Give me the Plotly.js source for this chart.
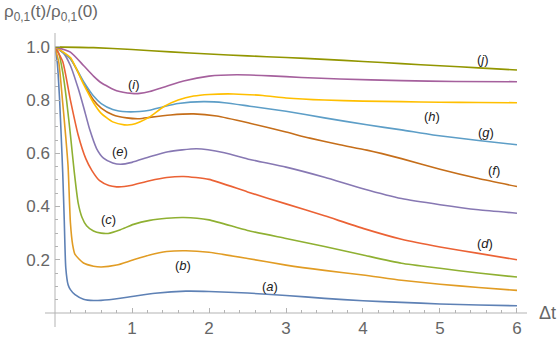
<!DOCTYPE html>
<html>
<head>
<meta charset="utf-8">
<script src="https://cdn.plot.ly/plotly-3.0.1.min.js"></script>
<style>html,body{margin:0;padding:0;background:#fff;}#chart{width:559px;height:341px;}</style>
</head>
<body>
<div id="chart"></div>
<script>
// ---- data ----
var xA = [0,0.03,0.06,0.08,0.1,0.12,0.14,0.17,0.2,0.26,0.37,0.5,0.7,1.0,1.3,1.7,2.0,2.5,3.0,3.5,4,4.5,5,5.5,6];
var yA = [1,0.94,0.8,0.67,0.53,0.35,0.17,0.106,0.088,0.069,0.052,0.047,0.05,0.062,0.074,0.082,0.081,0.075,0.066,0.055,0.046,0.04,0.034,0.03,0.027];

var xB = [0,0.05,0.1,0.14,0.17,0.2,0.23,0.26,0.37,0.5,0.6,0.8,1.0,1.23,1.45,1.7,2.0,2.5,3.0,3.5,4,4.5,5,5.5,6];
var yB = [1,0.94,0.79,0.66,0.55,0.34,0.255,0.22,0.188,0.176,0.173,0.18,0.198,0.218,0.231,0.234,0.228,0.205,0.18,0.16,0.143,0.123,0.108,0.096,0.085];

var xC = [0,0.05,0.1,0.15,0.2,0.25,0.3,0.35,0.41,0.5,0.6,0.69,0.85,1.02,1.23,1.45,1.67,2.0,2.5,3.0,3.5,4,4.5,5,5.5,6];
var yC = [1,0.975,0.905,0.8,0.67,0.53,0.415,0.36,0.328,0.308,0.3,0.299,0.313,0.333,0.348,0.356,0.359,0.35,0.31,0.28,0.25,0.218,0.187,0.168,0.15,0.135];

var xD = [0,0.1,0.2,0.3,0.4,0.48,0.58,0.7,0.8,0.9,1.0,1.23,1.45,1.67,2.0,2.5,3.0,3.5,4,4.5,5,5.5,6];
var yD = [1,0.945,0.8,0.67,0.58,0.535,0.497,0.479,0.474,0.475,0.48,0.497,0.509,0.513,0.502,0.455,0.41,0.365,0.318,0.277,0.248,0.224,0.2];

var xE = [0,0.1,0.2,0.3,0.37,0.45,0.54,0.63,0.75,0.85,1.0,1.23,1.47,1.84,2.2,2.53,3.0,3.5,4,4.5,5,5.5,6];
var yE = [1,0.98,0.93,0.845,0.775,0.69,0.618,0.582,0.564,0.559,0.566,0.587,0.606,0.617,0.602,0.577,0.548,0.51,0.467,0.43,0.407,0.388,0.375];

var xF = [0,0.2,0.37,0.5,0.6,0.75,0.93,1.1,1.23,1.5,1.8,2.1,2.53,3.0,3.31,3.7,4.05,4.5,5,5.5,6];
var yF = [1,0.955,0.865,0.8,0.77,0.745,0.733,0.73,0.735,0.744,0.748,0.74,0.713,0.68,0.657,0.632,0.612,0.58,0.54,0.505,0.475];

var xG = [0,0.2,0.37,0.5,0.6,0.75,0.93,1.1,1.23,1.41,1.6,1.93,2.2,2.53,3.0,3.5,4.05,4.5,4.91,5.5,6];
var yG = [1,0.955,0.87,0.815,0.787,0.765,0.756,0.757,0.762,0.775,0.787,0.794,0.79,0.777,0.758,0.733,0.707,0.688,0.669,0.648,0.632];

var xH = [0,0.2,0.37,0.5,0.6,0.75,0.9,1.0,1.1,1.23,1.41,1.6,1.8,2.0,2.32,2.7,3.0,3.5,4,4.5,5,5.5,6];
var yH = [1,0.96,0.86,0.79,0.75,0.718,0.707,0.708,0.718,0.737,0.775,0.8,0.815,0.821,0.823,0.817,0.808,0.8,0.796,0.794,0.792,0.791,0.79];

var xI = [0,0.2,0.37,0.5,0.6,0.8,1.0,1.1,1.23,1.45,1.67,2.0,2.36,2.8,3.2,3.7,4.5,5.2,6];
var yI = [1,0.98,0.93,0.89,0.865,0.835,0.825,0.825,0.832,0.852,0.872,0.89,0.895,0.891,0.885,0.879,0.873,0.87,0.869];

var xJ = [0,0.5,1,1.5,2,2.5,3,3.5,4,4.5,5,5.5,6];
var yJ = [1,0.997,0.99,0.981,0.973,0.966,0.96,0.953,0.945,0.937,0.929,0.921,0.913];

var curveLabels = ["a","b","c","d","e","f","g","h","i","j"];
var labelX = [2.79,1.66,0.69,5.58,0.84,5.70,5.60,4.90,1.03,5.56];
var labelY = [0.099,0.18,0.35,0.26,0.605,0.534,0.68,0.74,0.857,0.954];

var yTicks = [0.2,0.4,0.6,0.8,1.0];
var yTickText = ["0.2","0.4","0.6","0.8","1.0"];
var xTicks = [1,2,3,4,5,6];
var xTickText = ["1","2","3","4","5","6"];

var colors = ["#5E81B5","#E19C24","#8FB032","#EB6235","#8778B3","#C56E1A","#5D9EC7","#FFBF00","#A5609D","#929600"];

var xs = [xA,xB,xC,xD,xE,xF,xG,xH,xI,xJ];
var ys = [yA,yB,yC,yD,yE,yF,yG,yH,yI,yJ];

var traces = xs.map(function(x,i){
  return {x:x, y:ys[i], type:'scatter', mode:'lines',
    line:{color:colors[i], width:1.6, shape:'spline', smoothing:0.55},
    hoverinfo:'skip', showlegend:false};
});

var gray = "#666666";
var axisCol = "#b3b3b3";
var font = "Liberation Sans, Arial, sans-serif";

var annotations = curveLabels.map(function(l,i){
  return {x:labelX[i], y:labelY[i], xref:'x', yref:'y', showarrow:false,
    text:'(<i>'+l+'</i>)', font:{family:font, size:13, color:'#222'}};
});
annotations.push({xref:'paper', yref:'paper', x:-0.112, y:1.071, xanchor:'left', yanchor:'middle',
  showarrow:false, text:'ρ<sub>0,1</sub>(t)/ρ<sub>0,1</sub>(0)', font:{family:font, size:17, color:gray}});
annotations.push({xref:'paper', yref:'paper', x:1.044, y:0, xanchor:'center', yanchor:'middle',
  showarrow:false, text:'Δt', font:{family:font, size:18, color:gray}});

var layout = {
  width:559, height:341,
  margin:{l:55, r:32, t:33, b:28, pad:0},
  paper_bgcolor:'#fff', plot_bgcolor:'#fff',
  showlegend:false,
  xaxis:{range:[0,6.13], showgrid:false, zeroline:false, showline:false,
    tickmode:'array', tickvals:xTicks, ticktext:xTickText,
    ticks:'inside', ticklen:5, tickcolor:axisCol, tickwidth:1, ticklabelstandoff:3,
    minor:{tickmode:'linear', tick0:0, dtick:0.2, ticks:'inside', ticklen:3, tickcolor:axisCol, tickwidth:1},
    tickfont:{family:font, size:17, color:gray}, fixedrange:true},
  yaxis:{range:[0,1.052], showgrid:false, zeroline:false, showline:false,
    tickmode:'array', tickvals:yTicks, ticktext:yTickText,
    ticks:'inside', ticklen:5, tickcolor:axisCol, tickwidth:1, ticklabelstandoff:4,
    minor:{tickmode:'linear', tick0:0, dtick:0.05, ticks:'inside', ticklen:3, tickcolor:axisCol, tickwidth:1},
    tickfont:{family:font, size:17, color:gray}, fixedrange:true},
  shapes:[
    {type:'line', xref:'paper', yref:'paper', x0:-10/472, x1:1, y0:0, y1:0, line:{color:axisCol, width:1}},
    {type:'line', xref:'paper', yref:'paper', x0:0, x1:0, y0:-14/280, y1:1, line:{color:axisCol, width:1}}
  ],
  annotations:annotations
};

Plotly.newPlot('chart', traces, layout, {staticPlot:true, displayModeBar:false});
</script>
</body>
</html>
